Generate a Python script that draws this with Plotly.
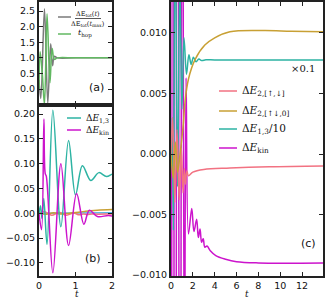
import plotly.graph_objects as go

# ---------------- data ----------------
# panel (a)
t_tot = [0.0, 0.05, 0.15, 0.24, 0.32, 0.37, 0.42, 0.5, 1.0, 2.0]
e_tot_ratio = [0.3, -0.3, 2.57, -0.45, 1.45, 0.75, 1.05, 1.0, 1.0, 1.0]
t_hop_t = [0.0, 0.03, 0.09, 0.15, 0.22, 0.30, 0.36, 0.42, 0.5, 1.0, 2.0]
t_hop_v = [0.0, 1.2, 0.5, -0.5, 2.41, 0.2, 1.3, 0.95, 1.0, 1.0, 1.0]

# ΔE_{1,3}
t_13 = [0.0, 0.04, 0.08, 0.13, 0.22, 0.38, 0.60, 0.81, 1.0, 1.19, 1.42, 1.64,
        1.85, 2.05, 2.3, 2.55, 2.8, 3.2, 4.0, 8.0, 14.0]
e_13 = [0.0, 0.015, -0.01, 0.03, -0.063, 0.208, -0.027, 0.147, 0.037, 0.096, 0.066,
        0.082, 0.074, 0.080, 0.0762, 0.0785, 0.0772, 0.0778, 0.0777, 0.0777, 0.0777]

# ΔE_kin
t_kin = [0.0, 0.07, 0.135, 0.17, 0.2, 0.38, 0.6, 0.81, 1.03, 1.23, 1.38, 1.6, 1.9,
         2.1, 2.35, 2.5, 2.66, 2.8, 2.95, 3.1, 3.3, 3.6, 4.1, 5.0, 6.0, 8.0, 14.0]
e_kin = [0.0, -0.033, 0.19, 0.08, 0.075, -0.12, 0.10, -0.065, 0.04, -0.022, 0.0063,
         -0.0066, -0.0045, -0.0064, -0.0054, -0.0069, -0.0062, -0.0073, -0.0070,
         -0.0077, -0.0076, -0.0080, -0.0084, -0.0087, -0.0089, -0.0090, -0.0090]

# ΔE_{2,[↑,↓]}
t_ud = [0.0, 0.15, 0.35, 0.55, 0.75, 0.95, 1.1, 1.22, 1.32, 1.45, 1.6, 2.0, 3.0,
        5.4, 9.0, 14.0]
e_ud = [0.0, 0.003, -0.004, 0.002, -0.0038, 0.0005, -0.0032, -0.0012, -0.0025,
        -0.0014, -0.0018, -0.0015, -0.00128, -0.00116, -0.00105, -0.00098]

# ΔE_{2,[↑↓,0]}
t_d0 = [0.0, 0.2, 0.4, 0.6, 0.83, 1.13, 1.28, 1.6, 2.2, 3.1, 4.0, 5.4, 8.5, 11.0, 14.0]
e_d0 = [0.0, -0.002, 0.001, -0.0015, 0.0, 0.0025, 0.0043, 0.0062, 0.0078, 0.0090,
        0.0096, 0.0101, 0.0102, 0.01015, 0.0101]

# light blue reference line near zero (panel b)
t_lb = [0.0, 1.0, 2.0]
e_lb = [0.0, 0.0005, 0.001]

C_GRAY = "#7a7a7a"
C_GREEN = "#62b862"
C_TEAL = "#2db3a3"
C_MAG = "#cc14cc"
C_GOLD = "#c8a034"
C_PINK = "#f27282"
C_LBLUE = "#52b4e6"

W, H = 325, 300


def px(x):
    return x / W


def py(y):
    return 1 - y / H


fig = go.Figure()

lw = 1.5
sp = dict(shape="spline", smoothing=1.0)

# panel a
fig.add_trace(go.Scatter(x=t_tot, y=e_tot_ratio, mode="lines", name="ΔE_tot(t)/ΔE_tot(t_max)",
                         line=dict(color=C_GRAY, width=lw, **sp), xaxis="x", yaxis="y", showlegend=False))
fig.add_trace(go.Scatter(x=t_hop_t, y=t_hop_v, mode="lines", name="t_hop",
                         line=dict(color=C_GREEN, width=lw, **sp), xaxis="x", yaxis="y", showlegend=False))

# panel b
for tt, vv, c, nm in [(t_lb, e_lb, C_LBLUE, "ref"), (t_ud, e_ud, C_PINK, "ΔE_2,[↑,↓]"),
                      (t_d0, e_d0, C_GOLD, "ΔE_2,[↑↓,0]"), (t_13, e_13, C_TEAL, "ΔE_1,3"),
                      (t_kin, e_kin, C_MAG, "ΔE_kin")]:
    fig.add_trace(go.Scatter(x=tt, y=vv, mode="lines", name=nm,
                             line=dict(color=c, width=lw, **sp), xaxis="x2", yaxis="y2", showlegend=False))

# panel c
e_13_scaled = [v / 10 for v in e_13]
for tt, vv, c, nm in [(t_kin, e_kin, C_MAG, "ΔE_kin"), (t_13, e_13_scaled, C_TEAL, "ΔE_1,3/10"),
                      (t_ud, e_ud, C_PINK, "ΔE_2,[↑,↓]"), (t_d0, e_d0, C_GOLD, "ΔE_2,[↑↓,0]")]:
    fig.add_trace(go.Scatter(x=tt, y=vv, mode="lines", name=nm,
                             line=dict(color=c, width=lw, **sp), xaxis="x3", yaxis="y3", showlegend=False))

ax_common = dict(showline=True, linewidth=2, linecolor="#222222", mirror="ticks",
                 ticks="inside", ticklen=4, tickwidth=1, tickcolor="#222222",
                 showgrid=False, zeroline=False, automargin=False,
                 tickfont=dict(family="DejaVu Sans", size=9.5, color="#111111"))

fig.update_layout(
    width=W, height=H, margin=dict(l=0, r=0, t=0, b=0, autoexpand=False),
    paper_bgcolor="white", plot_bgcolor="white",
    xaxis=dict(domain=[px(39), px(112)], range=[0, 2], dtick=1, showticklabels=False,
               anchor="y", **ax_common),
    yaxis=dict(domain=[py(105), py(2)], range=[-0.51, 2.79], tickvals=[0, 0.5, 1.0, 1.5, 2.0, 2.5],
               ticktext=["0.0", "0.5", "1.0", "1.5", "2.0", "2.5"], anchor="x", **ax_common),
    xaxis2=dict(domain=[px(39), px(112)], range=[0, 2], dtick=1, anchor="y2", ticklabelstandoff=0,
                **ax_common),
    yaxis2=dict(domain=[py(276), py(105)], range=[-0.1265, 0.2184],
                tickvals=[-0.10, -0.05, 0.0, 0.05, 0.10, 0.15, 0.20],
                ticktext=["−0.10", "−0.05", "0.00", "0.05", "0.10", "0.15", "0.20"],
                anchor="x2", **ax_common),
    xaxis3=dict(domain=[px(171), px(323)], range=[0, 13.92], dtick=2, anchor="y3", ticklabelstandoff=0,
                **ax_common),
    yaxis3=dict(domain=[py(276), py(2)], range=[-0.01008, 0.01256],
                tickvals=[-0.010, -0.005, 0.0, 0.005, 0.010],
                ticktext=["−0.010", "−0.005", "0.000", "0.005", "0.010"],
                anchor="x3", **ax_common),
)

shapes = []
ann = []


def legline(x0, x1, y, color):
    shapes.append(dict(type="line", xref="paper", yref="paper", x0=px(x0), x1=px(x1),
                       y0=py(y), y1=py(y), line=dict(color=color, width=1.5)))


def text(x, y, s, size, family="DejaVu Serif", xanchor="left", yanchor="middle", color="#111111",
         pad=1):
    ann.append(dict(xref="paper", yref="paper", x=px(x), y=py(y), text=s, showarrow=False,
                    xanchor=xanchor, yanchor=yanchor, borderpad=pad,
                    font=dict(family=family, size=size, color=color)))


# panel a legend
legline(58, 71, 17, C_GRAY)
text(88, 13.5, "ΔE<sub>tot</sub>(<i>t</i>)", 6.5, xanchor="center")
shapes.append(dict(type="line", xref="paper", yref="paper", x0=px(75), x1=px(101), y0=py(18.5),
                   y1=py(18.5), line=dict(color="#111111", width=0.7)))
text(88, 23.5, "ΔE<sub>tot</sub>(<i>t</i><sub>max</sub>)", 6.5, xanchor="center")
legline(58, 71, 34, C_GREEN)
text(76, 34, "<i>t</i><sub>hop</sub>", 8)

# panel b legend
legline(67, 81, 118, C_TEAL)
text(84, 118, "Δ<i>E</i><sub>1,3</sub>", 9)
legline(67, 81, 130, C_MAG)
text(84, 130, "Δ<i>E</i><sub>kin</sub>", 9)

# panel c legend
for yy, c, s in [(91, C_PINK, "Δ<i>E</i><sub>2,[↑,↓]</sub>"), (111, C_GOLD, "Δ<i>E</i><sub>2,[↑↓,0]</sub>"),
                 (129, C_TEAL, "Δ<i>E</i><sub>1,3</sub>/10"), (148, C_MAG, "Δ<i>E</i><sub>kin</sub>")]:
    legline(219, 237, yy, c)
    text(240, yy, s, 10.5)

text(317, 68, "×0.1", 10, xanchor="right")

# panel labels
text(96, 87, "(a)", 11, family="DejaVu Sans", xanchor="center")
text(93, 258, "(b)", 11, family="DejaVu Sans", xanchor="center")
text(308, 243, "(c)", 11, family="DejaVu Sans", xanchor="center")

# axis titles
text(77, 300, "<i>t</i>", 9, xanchor="center", yanchor="bottom", pad=0)
text(247, 300, "<i>t</i>", 9, xanchor="center", yanchor="bottom", pad=0)

fig.update_layout(shapes=shapes, annotations=ann)
fig.write_html("out.html", config={"displayModeBar": False},
               post_script="document.body.style.margin='0px';")
